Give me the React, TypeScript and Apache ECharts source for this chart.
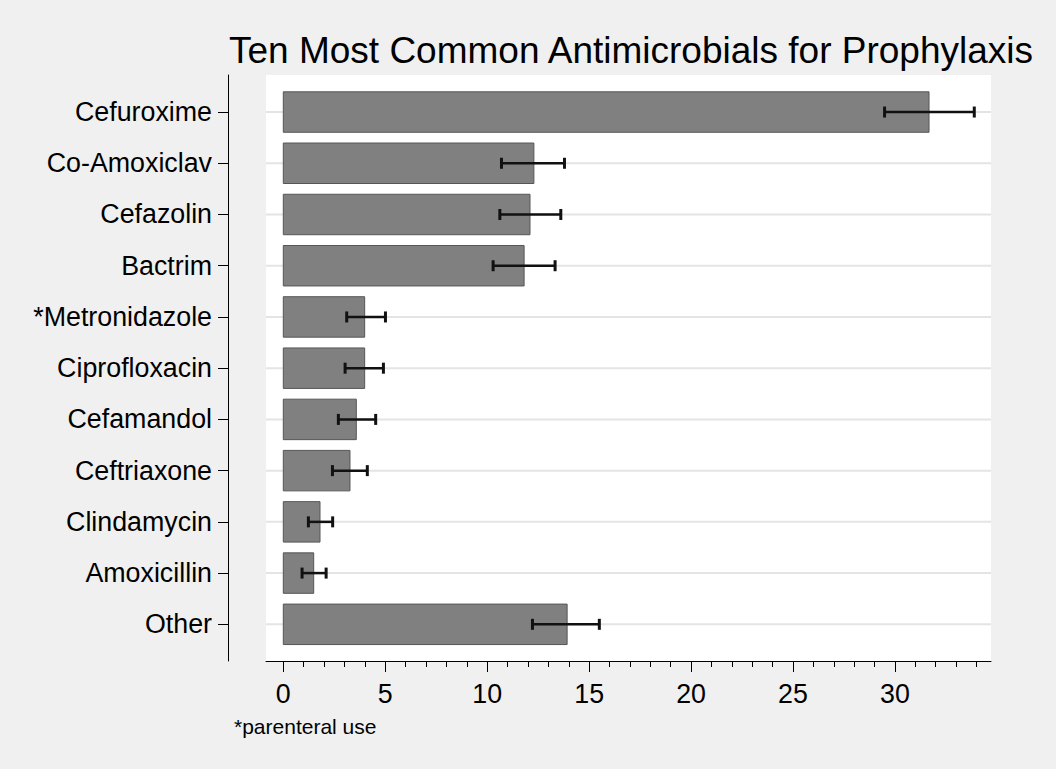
import React, { useEffect, useRef } from "react";
import * as echarts from "echarts";

const categories = [
  "Cefuroxime",
  "Co-Amoxiclav",
  "Cefazolin",
  "Bactrim",
  "*Metronidazole",
  "Ciprofloxacin",
  "Cefamandol",
  "Ceftriaxone",
  "Clindamycin",
  "Amoxicillin",
  "Other",
];
const means = [31.67, 12.29, 12.1, 11.81, 3.99, 3.99, 3.58, 3.27, 1.8, 1.49, 13.92];
const lowerCI = [29.49, 10.7, 10.62, 10.29, 3.11, 3.03, 2.7, 2.41, 1.23, 0.92, 12.22];
const upperCI = [33.89, 13.79, 13.61, 13.33, 5.01, 4.91, 4.53, 4.12, 2.42, 2.1, 15.5];
const xMajorTicks = [0, 5, 10, 15, 20, 25, 30];
const xMinorTicks = [1, 2, 3, 4, 6, 7, 8, 9, 11, 12, 13, 14, 16, 17, 18, 19, 21, 22, 23, 24, 26, 27, 28, 29, 31, 32, 33, 34];
const yTicks = [0, 1, 2, 3, 4, 5, 6, 7, 8, 9, 10];

const titleText = "Ten Most Common Antimicrobials for Prophylaxis";
const noteText = "*parenteral use";

const FONT = "'Liberation Sans', Arial, Helvetica, sans-serif";

export default function App() {
  const ref = useRef<HTMLDivElement>(null);

  useEffect(() => {
    if (!ref.current) return;
    const chart = echarts.init(ref.current, null, { renderer: "svg" });

    const data = categories.map((_, i) => [means[i], i, lowerCI[i], upperCI[i]]);

    const renderItem = (params: any, api: any) => {
      const idx = api.value(1);
      const mean = api.value(0);
      const lo = api.value(2);
      const hi = api.value(3);
      const p0 = api.coord([0, idx]);
      const p1 = api.coord([mean, idx]);
      const pl = api.coord([lo, idx]);
      const ph = api.coord([hi, idx]);
      const h = api.size([0, 0.79])[1];
      const cs = params.coordSys;
      const capH = 11;
      return {
        type: "group",
        children: [
          {
            type: "line",
            shape: { x1: cs.x, y1: p0[1], x2: cs.x + cs.width, y2: p0[1] },
            style: { stroke: "#e4e4e4", lineWidth: 2 },
          },
          {
            type: "rect",
            shape: { x: p0[0], y: p0[1] - h / 2, width: p1[0] - p0[0], height: h },
            style: { fill: "#808080", stroke: "#565656", lineWidth: 1 },
          },
          {
            type: "line",
            shape: { x1: pl[0], y1: pl[1], x2: ph[0], y2: ph[1] },
            style: { stroke: "#111", lineWidth: 2.5 },
          },
          {
            type: "line",
            shape: { x1: pl[0], y1: pl[1] - capH / 2, x2: pl[0], y2: pl[1] + capH / 2 },
            style: { stroke: "#111", lineWidth: 3 },
          },
          {
            type: "line",
            shape: { x1: ph[0], y1: ph[1] - capH / 2, x2: ph[0], y2: ph[1] + capH / 2 },
            style: { stroke: "#111", lineWidth: 3 },
          },
        ],
      };
    };

    const option: any = {
      animation: false,
      backgroundColor: "#f0f0f0",
      textStyle: { fontFamily: FONT },
      title: {
        text: titleText,
        left: 229,
        top: 32,
        padding: 0,
        textStyle: { fontFamily: FONT, fontSize: 37, fontWeight: "normal", color: "#000" },
      },
      grid: {
        left: 266,
        right: 65,
        top: 75,
        bottom: 108,
        show: true,
        backgroundColor: "#ffffff",
        borderWidth: 0,
        containLabel: false,
      },
      xAxis: [
        {
          type: "value",
          position: "bottom",
          min: -0.849,
          max: 34.71,
          axisLine: { show: true, onZero: false, lineStyle: { color: "#000", width: 1 } },
          axisTick: { show: true, customValues: xMajorTicks, length: 11, lineStyle: { color: "#000", width: 1 } },
          axisLabel: {
            show: true,
            customValues: xMajorTicks,
            margin: 19,
            fontSize: 26.8,
            color: "#000",
            fontFamily: FONT,
          },
          splitLine: { show: false },
        },
        {
          type: "value",
          position: "bottom",
          min: -0.849,
          max: 34.71,
          axisLine: { show: false, onZero: false },
          axisTick: { show: true, customValues: xMinorTicks, length: 6, lineStyle: { color: "#000", width: 1 } },
          axisLabel: { show: false },
          splitLine: { show: false },
        },
      ],
      yAxis: {
        type: "value",
        inverse: true,
        position: "left",
        offset: 38,
        min: -0.723,
        max: 10.716,
        axisLine: { show: true, onZero: false, lineStyle: { color: "#000", width: 1 } },
        axisTick: { show: true, customValues: yTicks, length: 10, lineStyle: { color: "#000", width: 1 } },
        axisLabel: {
          show: true,
          customValues: yTicks,
          margin: 16,
          fontSize: 26.8,
          color: "#000",
          fontFamily: FONT,
          formatter: (v: number) => categories[Math.round(v)] ?? "",
        },
        splitLine: { show: false },
      },
      graphic: [
        {
          type: "text",
          x: 234,
          y: 726,
          style: {
            text: noteText,
            fontSize: 21,
            fontFamily: FONT,
            fill: "#000",
            verticalAlign: "middle",
            align: "left",
          },
        },
      ],
      series: [
        {
          type: "custom",
          xAxisIndex: 0,
          yAxisIndex: 0,
          renderItem,
          encode: { x: [0, 2, 3], y: 1 },
          data,
          clip: false,
        },
      ],
    };

    chart.setOption(option);
    return () => chart.dispose();
  }, []);

  return (
    <div
      ref={ref}
      style={{ position: "absolute", left: 0, top: 0, width: 1056, height: 769 }}
    />
  );
}
